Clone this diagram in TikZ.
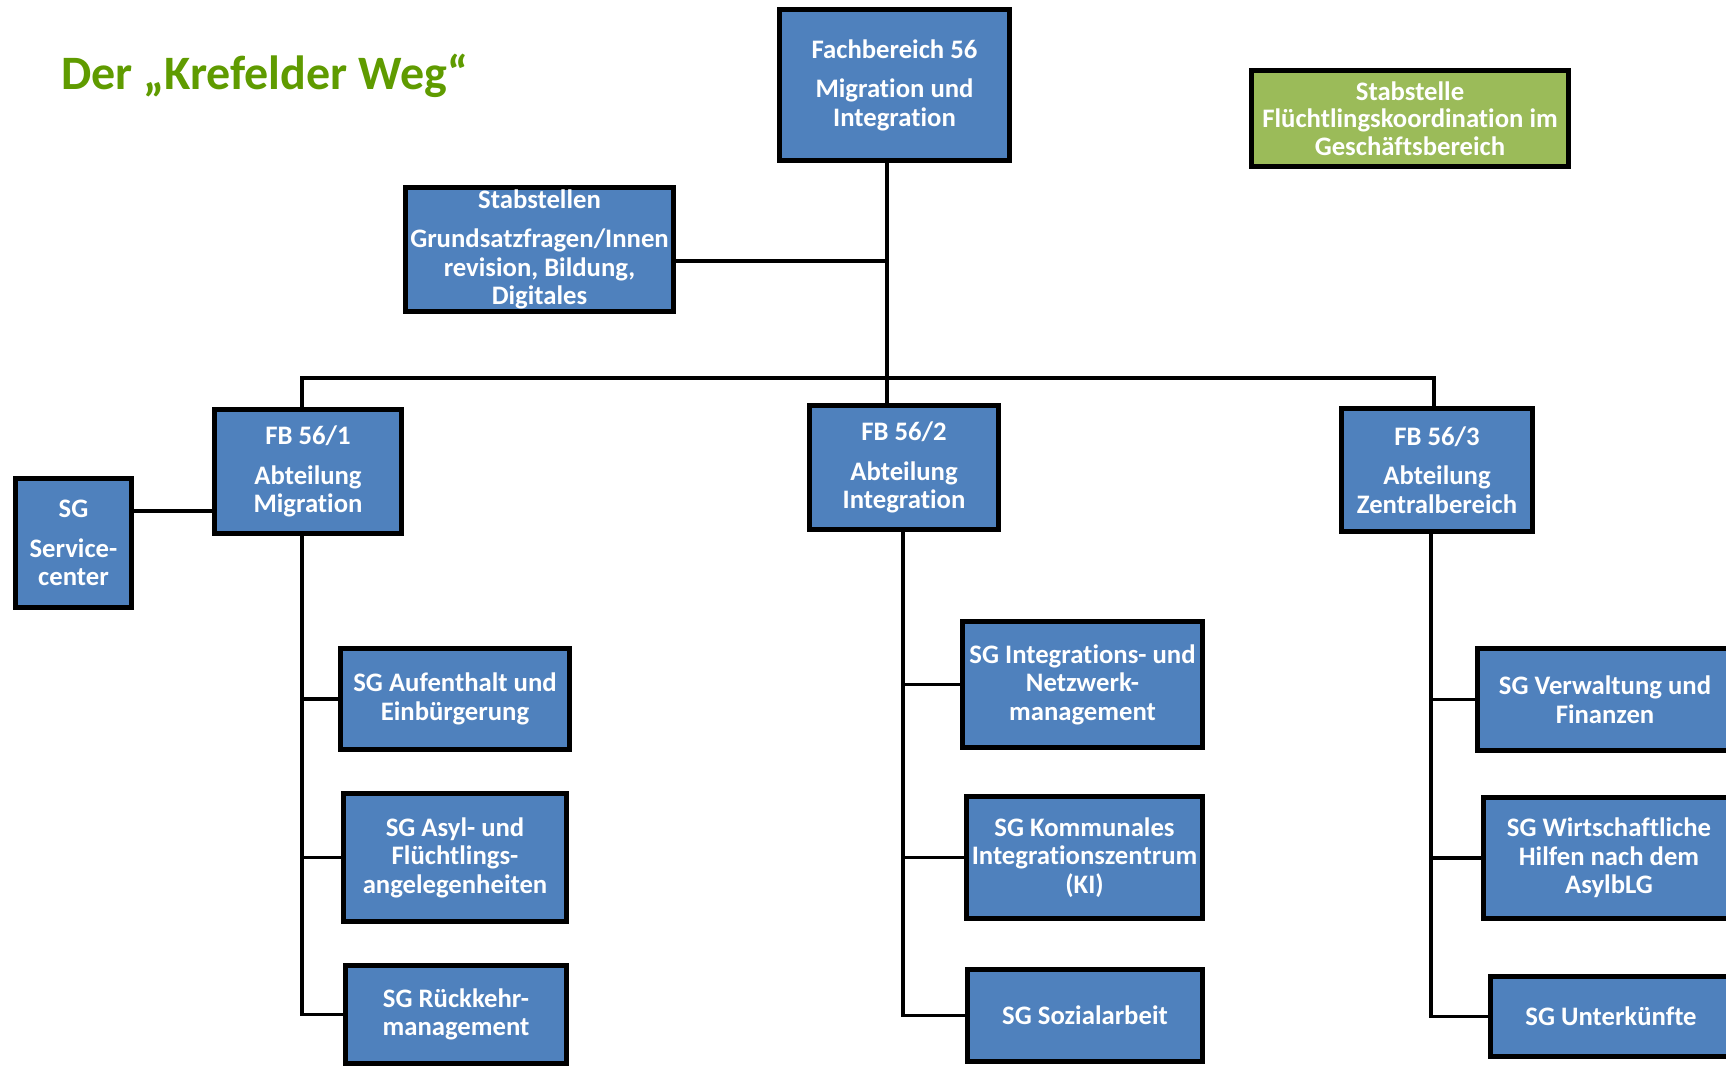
\documentclass[tikz,border=0pt]{standalone}
\usepackage{fontspec}
\setmainfont{Carlito}[Ligatures=NoCommon]
\usepackage{xcolor}
\definecolor{boxblue}{RGB}{79,129,189}
\definecolor{boxgreen}{RGB}{155,187,89}
\definecolor{titlegreen}{RGB}{95,155,0}

\begin{document}
\begin{tikzpicture}[x=1pt, y=-1pt,
  unit/.style={draw=black, line width=5pt, fill=boxblue, text=white, align=center,
    inner sep=0pt, font=\fontsize{26.7}{28.5}\selectfont\bfseries},
  link/.style={line width=3.5pt}]

\useasboundingbox (0,0) rectangle (1726,1066);
\clip (0,0) rectangle (1726,1066);

% Title
\node[anchor=base west, inner sep=0pt, text=titlegreen, font=\fontsize{48}{54}\selectfont\bfseries] (title) at (61,89) {Der „Krefelder Weg“};

% Head and staff units
\node[unit, minimum width=230, minimum height=151] (fb) at (894.5,85) {Fachbereich 56\\[11pt]Migration und\\Integration};
\node[unit, minimum width=268, minimum height=124] (stab) at (539.5,249.5) {Stabstellen\\[11pt]Grundsatzfragen/Innen\\revision, Bildung,\\Digitales};
\node[unit, fill=boxgreen, minimum width=317, minimum height=96, font=\fontsize{26.7}{27.5}\selectfont\bfseries] (koord) at (1410,118.5) {Stabstelle\\Flüchtlingskoordination im\\Geschäftsbereich};

% Departments
\node[unit, minimum width=187, minimum height=124] (fb1) at (308,471.5) {FB 56/1\\[11pt]Abteilung\\Migration};
\node[unit, minimum width=189, minimum height=124] (fb2) at (904,467.5) {FB 56/2\\[11pt]Abteilung\\Integration};
\node[unit, minimum width=191, minimum height=123] (fb3) at (1437,470) {FB 56/3\\[11pt]Abteilung\\Zentralbereich};
\node[unit, minimum width=116, minimum height=129] (svc) at (73.5,543) {SG\\[11pt]Service-\\center};

% Sachgebiete Migration
\node[unit, minimum width=229, minimum height=101] (auf) at (455,699) {SG Aufenthalt und\\Einbürgerung};
\node[unit, minimum width=223, minimum height=128] (asyl) at (455,857.5) {SG Asyl- und\\Flüchtlings-\\angelegenheiten};
\node[unit, minimum width=221, minimum height=98] (rueck) at (456,1014.5) {SG Rückkehr-\\management};

% Sachgebiete Integration
\node[unit, minimum width=240, minimum height=126] (integ) at (1082.5,684.5) {SG Integrations- und\\Netzwerk-\\management};
\node[unit, minimum width=236, minimum height=122] (komm) at (1084.5,857.5) {SG Kommunales\\Integrationszentrum\\(KI)};
\node[unit, minimum width=235, minimum height=92] (sozial) at (1085,1015.5) {SG Sozialarbeit};

% Sachgebiete Zentralbereich
\node[unit, minimum width=255, minimum height=102] (verw) at (1605,699.5) {SG Verwaltung und\\Finanzen};
\node[unit, minimum width=251, minimum height=121] (wirt) at (1609,858) {SG Wirtschaftliche\\Hilfen nach dem\\AsylbLG};
\node[unit, minimum width=241, minimum height=80] (unter) at (1611,1016.5) {SG Unterkünfte};

% Lines
\coordinate (trunk) at (887,378);
\coordinate (busL) at (302,378);
\coordinate (busR) at (1434,378);
\coordinate (stabjoin) at (887,261);
\coordinate (svcjoin) at (134,511);
\draw[link] (fb.south -| trunk) -- (fb2.north -| trunk);
\draw[link] (fb1.north -| busL) -- (busL) -- (busR) -- (fb3.north -| busR);
\draw[link] (stab.east |- stabjoin) -- (stabjoin);
\draw[link] (svc.east |- svcjoin) -- (fb1.west |- svcjoin);

\coordinate (spineA) at (302,0);
\coordinate (spineB) at (903,0);
\coordinate (spineC) at (1431,0);

\draw[link] (fb1.south -| spineA) -- (spineA |- rueck.west) -- (rueck.west);
\draw[link] (spineA |- auf.west) -- (auf.west);
\draw[link] (spineA |- asyl.west) -- (asyl.west);

\draw[link] (fb2.south -| spineB) -- (spineB |- sozial.west) -- (sozial.west);
\draw[link] (spineB |- integ.west) -- (integ.west);
\draw[link] (spineB |- komm.west) -- (komm.west);

\draw[link] (fb3.south -| spineC) -- (spineC |- unter.west) -- (unter.west);
\draw[link] (spineC |- verw.west) -- (verw.west);
\draw[link] (spineC |- wirt.west) -- (wirt.west);

\end{tikzpicture}
\end{document}
